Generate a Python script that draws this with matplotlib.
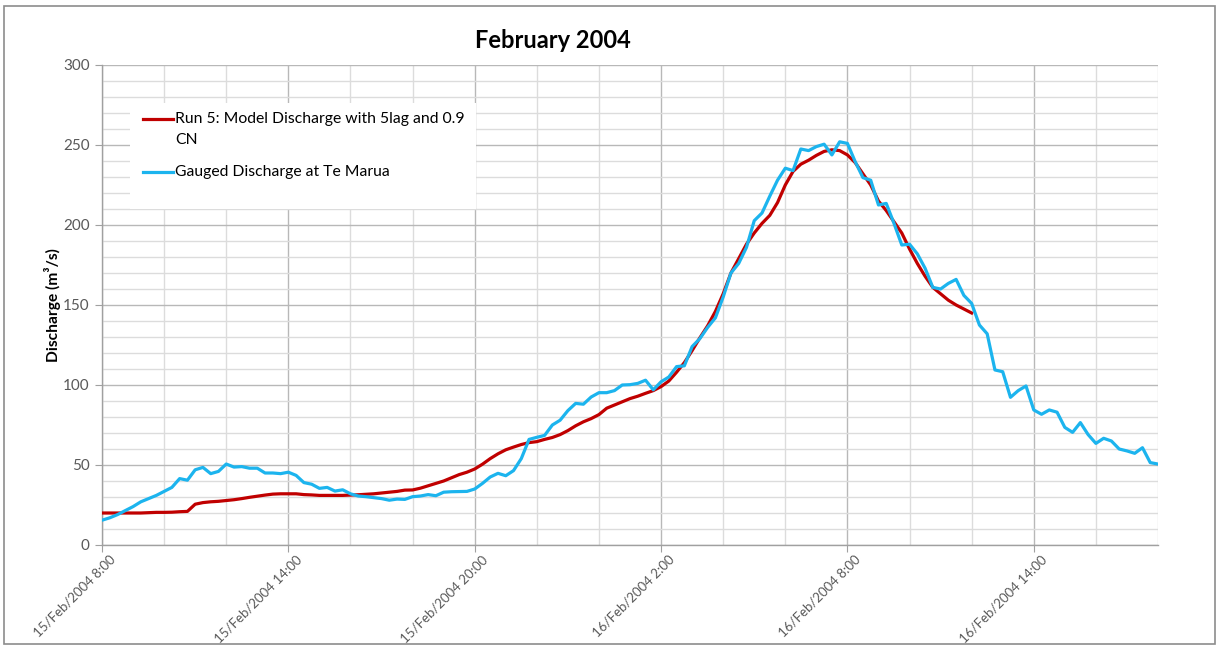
import numpy as np
import pandas as pd
import matplotlib
matplotlib.use("Agg")
import matplotlib.pyplot as plt
import matplotlib.dates as mdates
import matplotlib.transforms as mtransforms
from matplotlib.ticker import MultipleLocator, FuncFormatter
from matplotlib.patches import Rectangle
from matplotlib.lines import Line2D

plt.rcParams['font.family'] = ['Lato', 'DejaVu Sans']

# 15-minute readings from 15/Feb/2004 8:00
start = '2004-02-15 08:00'

gauged = [
    15.5, 17, 19, 21.5, 24, 27, 29, 31, 33.5, 36,
    41.5, 40.5, 47, 48.5, 44.6, 46, 50.6, 48.7, 49, 48,
    48, 45, 45, 44.6, 45.5, 43.5, 39, 38, 35.4, 36,
    33.7, 34.5, 32, 30.6, 30.2, 29.6, 29, 28, 28.7, 28.5,
    30.2, 30.6, 31.5, 30.8, 33, 33.3, 33.4, 33.5, 35, 38.5,
    42.5, 44.8, 43.3, 46.5, 54, 66, 67.3, 68.5, 75, 78,
    84, 88.5, 88, 92.5,
    95.2, 95.2, 96.5, 100, 100.2, 101, 103, 97, 102, 105,
    111.5, 112, 124, 129, 136, 142,
    155, 170, 176, 186, 202.7, 207.5, 218, 228, 235.5, 234,
    247.5, 246.5, 249, 250.5, 243.8, 252, 251, 239.6, 229.6, 228,
    212.5, 213.5, 201, 187.5,
    188, 182, 173, 161, 160, 163.5, 166, 156,
    151, 137.5, 132, 109.4, 108.3, 92.3, 96.5, 99.4, 84.4, 81.7,
    84.4, 83, 73.5, 70.4, 76.5, 69, 63.5, 66.7, 65, 60,
    58.8, 57.3, 60.8, 51.5, 50.6,
]

model = [
    20, 20, 20, 20, 20, 20, 20.2, 20.4, 20.4, 20.5,
    20.8, 21, 25.5, 26.5, 27, 27.3, 27.8, 28.3, 29, 29.8,
    30.5, 31.2, 31.8, 32, 32, 32, 31.5, 31.3, 31, 31,
    31, 31, 31.2, 31.4, 31.7, 32, 32.5, 33, 33.5, 34.3,
    34.4, 35.5, 37, 38.5, 40, 42, 44, 45.5, 47.5, 50.5,
    54, 57, 59.5, 61.2, 62.8, 64, 64.6, 66, 67.2, 69,
    71.5, 74.5, 77, 79,
    81.5, 85.5, 87.5, 89.5, 91.5, 93, 94.8, 96.5, 99, 102.5,
    108, 114, 121.5, 129.5, 137, 146,
    157, 170, 179, 188, 195, 201, 206, 214, 225, 233.5,
    238, 240.5, 243.5, 246, 247, 246.5, 243.8, 239, 232, 225,
    215, 209, 202, 195,
    185, 176, 168, 161, 157, 153, 150, 147.5, 145,
]

times_gauged = pd.date_range(start, periods=len(gauged), freq='15min')
times_model = times_gauged[:len(model)]

labels_model = ['Run 5: Model Discharge with 5lag and 0.9', 'CN']
label_gauged = 'Gauged Discharge at Te Marua'
red = '#C00000'
blue = '#1CB4EE'

W, H = 1219, 646
fig = plt.figure(figsize=(W / 100, H / 100), dpi=100)
ax = fig.add_axes([102 / W, 1 - 545 / H, (1158 - 102) / W, (545 - 65) / H])

ax.plot(times_model, model, color=red, lw=2.3, zorder=3)
ax.plot(times_gauged, gauged, color=blue, lw=2.3, zorder=4)

ax.set_xlim(times_gauged[0], times_gauged[-1])
ax.set_ylim(0, 300)

ax.yaxis.set_major_locator(MultipleLocator(50))
ax.yaxis.set_minor_locator(MultipleLocator(10))
ax.xaxis.set_major_locator(mdates.HourLocator(byhour=[2, 8, 14, 20]))
ax.xaxis.set_minor_locator(mdates.HourLocator(byhour=range(0, 24, 2)))


def fmt_time(x, pos):
    d = mdates.num2date(x)
    return f"{d.day}/{d:%b}/{d.year} {d.hour}:{d:%M}"


ax.xaxis.set_major_formatter(FuncFormatter(fmt_time))

ax.set_axisbelow(True)
ax.grid(which='major', color='#b8b8b8', lw=1.0)
ax.grid(which='minor', color='#dcdcdc', lw=1.0)

for s in ['top', 'right']:
    ax.spines[s].set_visible(False)
for s in ['left', 'bottom']:
    ax.spines[s].set_color('#a0a0a0')
    ax.spines[s].set_linewidth(1.0)

ax.tick_params(which='major', length=5, color='#a0a0a0', labelcolor='#595959')
ax.tick_params(which='minor', length=0)
ax.tick_params(axis='y', pad=4, labelsize=11)
ax.tick_params(axis='x', pad=1, labelsize=9.5)
shift = mtransforms.ScaledTranslation(5 / 72, 0, fig.dpi_scale_trans)
for lbl in ax.get_xticklabels():
    lbl.set_rotation(45)
    lbl.set_ha('right')
    lbl.set_va('top')
    lbl.set_rotation_mode('anchor')
    lbl.set_transform(lbl.get_transform() + shift)

ax.set_ylabel('Discharge (m³/s)', fontsize=11.2, fontweight='bold')
ax.yaxis.set_label_coords((61 - 102) / 1056, 0.5)

# legend: white area, sample lines and labels
fig.patches.append(Rectangle((130 / W, 1 - 209 / H), (476 - 130) / W, (209 - 103) / H,
                             transform=fig.transFigure, facecolor='white',
                             edgecolor='none', zorder=1))
fig.add_artist(Line2D([143 / W, 173 / W], [1 - 119 / H] * 2, color=red, lw=2.3))
fig.add_artist(Line2D([143 / W, 173 / W], [1 - 172 / H] * 2, color=blue, lw=2.3))
fig.text(175 / W, 1 - 119 / H, labels_model[0], va='center', fontsize=11.3)
fig.text(175 / W, 1 - 140 / H, labels_model[1], va='center', fontsize=11.3)
fig.text(175 / W, 1 - 172 / H, label_gauged, va='center', fontsize=11.3)

fig.text(553 / W, 1 - 40 / H, 'February 2004', ha='center', va='center',
         fontsize=17, fontweight='bold')

# chart area border
fig.patches.append(Rectangle((4 / W, 2 / H), 1211 / W, 638 / H,
                             transform=fig.transFigure, fill=False,
                             edgecolor='#8c8c8c', lw=1.2))

fig.savefig('out.png', dpi=100)
